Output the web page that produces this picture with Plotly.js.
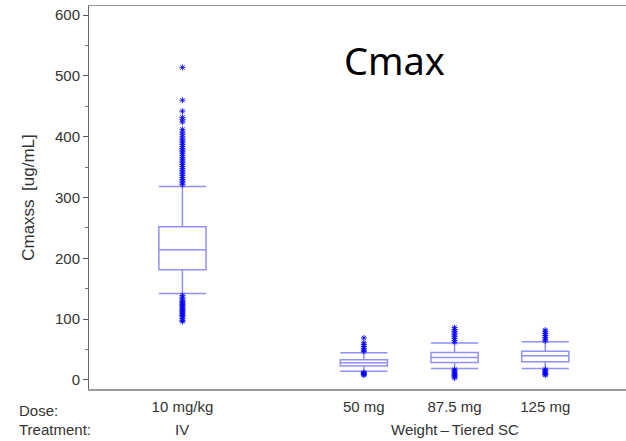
<!DOCTYPE html>
<html>
<head>
<meta charset="utf-8">
<script src="https://cdn.plot.ly/plotly-3.0.1.min.js"></script>
<style>html,body{margin:0;padding:0;background:#fff;}#chart{width:626px;height:441px;}</style>
</head>
<body>
<div id="chart"></div>
<script>
// Category positions and labels
const doseLabels = ["10 mg/kg", "50 mg", "87.5 mg", "125 mg"];
const treatmentLabels = ["IV", "Weight\u2009\u2013\u2009Tiered SC"];
const positions = [0, 2, 3, 4];

// Box statistics (ug/mL)
const q1 = [181, 23, 28.5, 30];
const median = [214, 28, 37, 39.5];
const q3 = [252, 33, 45, 47];
const lowerFence = [142, 14, 18.7, 18.7];
const upperFence = [318, 44.5, 60.5, 62.6];

// Outliers per group
const outIV = [514, 460, 442, 432, 428, 424, 412, 408, 404, 400, 396, 393, 390, 387, 384, 381, 378, 375, 372, 369, 366, 363, 360, 357, 354, 351, 348, 345, 342, 339, 336, 333, 330, 327, 324, 321,
  139, 136, 133, 130, 128, 126, 124, 122, 120, 118, 116, 114, 112, 110, 108, 106, 104, 101, 98, 96];
const out50 = [69, 61, 58, 55, 52, 49, 47, 12, 11, 10, 9, 8];
const out875 = [86, 83, 80, 77, 74, 71, 68, 65, 62, 17, 15, 13, 11, 9, 7, 5, 3];
const out125 = [82, 79, 76, 73, 70, 67, 64, 17, 15, 13, 11, 9, 8];

const boxColor = 'rgba(70,70,255,0.6)';

const boxTrace = {
  type: 'box',
  x: positions,
  q1: q1, median: median, q3: q3,
  lowerfence: lowerFence, upperfence: upperFence,
  width: 0.52,
  whiskerwidth: 1,
  line: {color: boxColor, width: 1.5},
  fillcolor: 'rgba(0,0,0,0)',
  boxpoints: false,
  hoverinfo: 'skip',
  showlegend: false
};

const groups = [outIV, out50, out875, out125];
const ox = [], oy = [];
groups.forEach((g, i) => g.forEach(v => { ox.push(positions[i]); oy.push(v); }));

const outTrace = {
  type: 'scatter', mode: 'markers',
  x: ox, y: oy,
  marker: {symbol: 'asterisk-open', size: 5, color: 'rgba(0,0,255,0.85)', line: {color: 'rgba(0,0,255,0.85)', width: 1}},
  hoverinfo: 'skip', showlegend: false
};

const font = {family: 'Liberation Sans, Arial, sans-serif', size: 15, color: '#333'};

const layout = {
  width: 626, height: 441,
  margin: {l: 89, r: 0, t: 6, b: 52},
  paper_bgcolor: '#fff', plot_bgcolor: '#fff',
  font: font,
  showlegend: false,
  xaxis: {
    range: [-1.03, 4.89],
    tickvals: positions, ticktext: doseLabels,
    ticks: '', showgrid: false, zeroline: false,
    showline: true, mirror: true, linecolor: '#999', linewidth: 1.5,
    tickfont: font, ticklabelstandoff: 3
  },
  yaxis: {
    range: [-15, 615],
    tickvals: [0, 100, 200, 300, 400, 500, 600],
    ticks: 'outside', ticklen: 5, tickcolor: '#555',
    minor: {dtick: 50, ticks: 'outside', ticklen: 3, tickcolor: '#777'},
    showgrid: false, zeroline: false,
    showline: true, linecolor: '#666', linewidth: 1,
    tickfont: font,
    title: {text: 'Cmaxss\u2002[ug/mL]', font: {family: 'Liberation Sans, Arial, sans-serif', size: 17, color: '#333'}, standoff: 16}
  },
  annotations: [
    {text: 'Cmax', xref: 'paper', yref: 'paper', x: 0.568, y: 0.859, yanchor: 'middle', showarrow: false,
     font: {family: 'Noto Sans, sans-serif', size: 38, color: '#000'}},
    {text: 'Dose:', xref: 'paper', yref: 'paper', x: -0.135, y: -0.055, xanchor: 'left', yanchor: 'middle', showarrow: false, font: font},
    {text: 'Treatment:', xref: 'paper', yref: 'paper', x: -0.135, y: -0.107, xanchor: 'left', yanchor: 'middle', showarrow: false, font: font},
    {text: treatmentLabels[0], xref: 'x', yref: 'paper', x: positions[0], y: -0.107, yanchor: 'middle', showarrow: false, font: font},
    {text: treatmentLabels[1], xref: 'x', yref: 'paper', x: positions[2], y: -0.107, yanchor: 'middle', showarrow: false, font: font}
  ]
};

Plotly.newPlot('chart', [boxTrace, outTrace], layout, {staticPlot: true});
</script>
</body>
</html>
